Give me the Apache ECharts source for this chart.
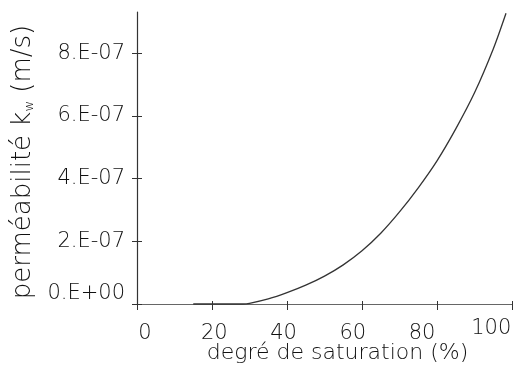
<!DOCTYPE html>
<html>
<head>
<meta charset="utf-8">
<script src="https://cdn.jsdelivr.net/npm/echarts@6/dist/echarts.min.js"></script>
<style>
  html, body { margin: 0; padding: 0; background: #ffffff; }
  #chart { width: 530px; height: 389px; }
</style>
</head>
<body>
<div id="chart"></div>
<script>
// Degree of saturation (%) and water permeability k_w (m/s)
const saturation = [15, 28.3, 30, 35, 40, 45, 50, 55, 60, 65, 70, 75, 80, 85, 90, 95, 98.4];
const permeability = [0, 0, 2e-9, 1.6e-8, 3.6e-8, 6.0e-8, 8.9e-8, 1.25e-7, 1.70e-7, 2.26e-7,
                      2.94e-7, 3.71e-7, 4.57e-7, 5.59e-7, 6.74e-7, 8.14e-7, 9.28e-7];

// Axis ticks and their labels
const xTicks = [0, 20, 40, 60, 80, 100];
const xTickLabels = ['0', '20', '40', '60', '80', '100'];
const yTicks = [0, 2e-7, 4e-7, 6e-7, 8e-7];
const yTickLabels = ['0.E+00', '2.E-07', '4.E-07', '6.E-07', '8.E-07'];

const FONT = 'DejaVu Sans';
const WEIGHT = 200;
const TEXT = '#111111';

const points = saturation.map((s, i) => [s, permeability[i]]);

function xLabel(v) {
  const i = xTicks.findIndex(t => Math.abs(t - v) < 1e-6);
  return i >= 0 ? xTickLabels[i] : '';
}
function yLabel(v) {
  const i = yTicks.findIndex(t => Math.abs(t - v) < 1e-12);
  return i >= 0 ? yTickLabels[i] : '';
}

const chart = echarts.init(document.getElementById('chart'), null, { renderer: 'canvas' });

const hiddenLabelAxisBase = {
  type: 'value',
  position: 'bottom',
  axisLine: { show: false },
  axisTick: { show: false },
  splitLine: { show: false }
};

chart.setOption({
  backgroundColor: '#ffffff',
  animation: false,
  grid: { left: 137, right: 18, top: 12, bottom: 85 },
  xAxis: [
    {
      type: 'value',
      min: 0, max: 100,
      position: 'bottom',
      name: 'degré de saturation (%)',
      nameLocation: 'middle',
      nameGap: 38,
      nameTextStyle: { fontFamily: FONT, fontWeight: WEIGHT, fontSize: 22, color: TEXT, padding: [0, 0, 0, 26] },
      axisLine: { show: true, lineStyle: { color: '#666666', width: 1.2 } },
      axisTick: { show: true, inside: false, length: 6, customValues: xTicks, lineStyle: { color: '#333333', width: 1 } },
      axisLabel: { show: false },
      splitLine: { show: false }
    },
    {
      type: 'value',
      min: 0, max: 100,
      position: 'bottom',
      axisLine: { show: false },
      axisTick: { show: true, inside: true, length: 3, customValues: xTicks, lineStyle: { color: '#333333', width: 1 } },
      axisLabel: { show: false },
      splitLine: { show: false }
    },
    Object.assign({}, hiddenLabelAxisBase, {
      min: -2.31, max: 105.99,
      axisLabel: {
        show: true, customValues: xTicks.slice(0, 5), formatter: xLabel,
        margin: 19, fontFamily: FONT, fontWeight: WEIGHT, fontSize: 21, color: TEXT
      }
    }),
    Object.assign({}, hiddenLabelAxisBase, {
      min: -2.31, max: 105.99,
      axisLabel: {
        show: true, customValues: xTicks.slice(5), formatter: xLabel,
        margin: 14, fontFamily: FONT, fontWeight: WEIGHT, fontSize: 21, color: TEXT
      }
    })
  ],
  yAxis: [
    {
      type: 'value',
      min: 0, max: 9.32e-7,
      position: 'left',
      offset: 0,
      name: 'perméabilité k{sub|w} (m/s)',
      nameLocation: 'middle',
      nameGap: 88,
      nameTextStyle: {
        fontFamily: FONT, fontWeight: WEIGHT, fontSize: 26, color: TEXT,
        padding: [0, 8, 0, 0],
        rich: {
          sub: { fontFamily: FONT, fontWeight: WEIGHT, fontSize: 13, color: TEXT, verticalAlign: 'bottom', lineHeight: 14 }
        }
      },
      axisLine: { show: true, lineStyle: { color: '#333333', width: 1.2 } },
      axisTick: { show: true, inside: false, length: 5, customValues: yTicks, lineStyle: { color: '#333333', width: 1 } },
      axisLabel: {
        show: true, customValues: yTicks, formatter: yLabel,
        margin: 12, fontFamily: FONT, fontWeight: WEIGHT, fontSize: 21, color: TEXT,
        verticalAlignMinLabel: 'bottom'
      },
      splitLine: { show: false }
    },
    {
      type: 'value',
      min: 0, max: 9.32e-7,
      position: 'left',
      offset: 0,
      axisLine: { show: false },
      axisTick: { show: true, inside: true, length: 5, customValues: yTicks, lineStyle: { color: '#333333', width: 1 } },
      axisLabel: { show: false },
      splitLine: { show: false }
    }
  ],
  series: [
    {
      type: 'line',
      xAxisIndex: 0,
      yAxisIndex: 0,
      data: points,
      smooth: 0.3,
      showSymbol: false,
      clip: false,
      lineStyle: { color: '#333333', width: 1.3 }
    }
  ]
});
</script>
</body>
</html>
